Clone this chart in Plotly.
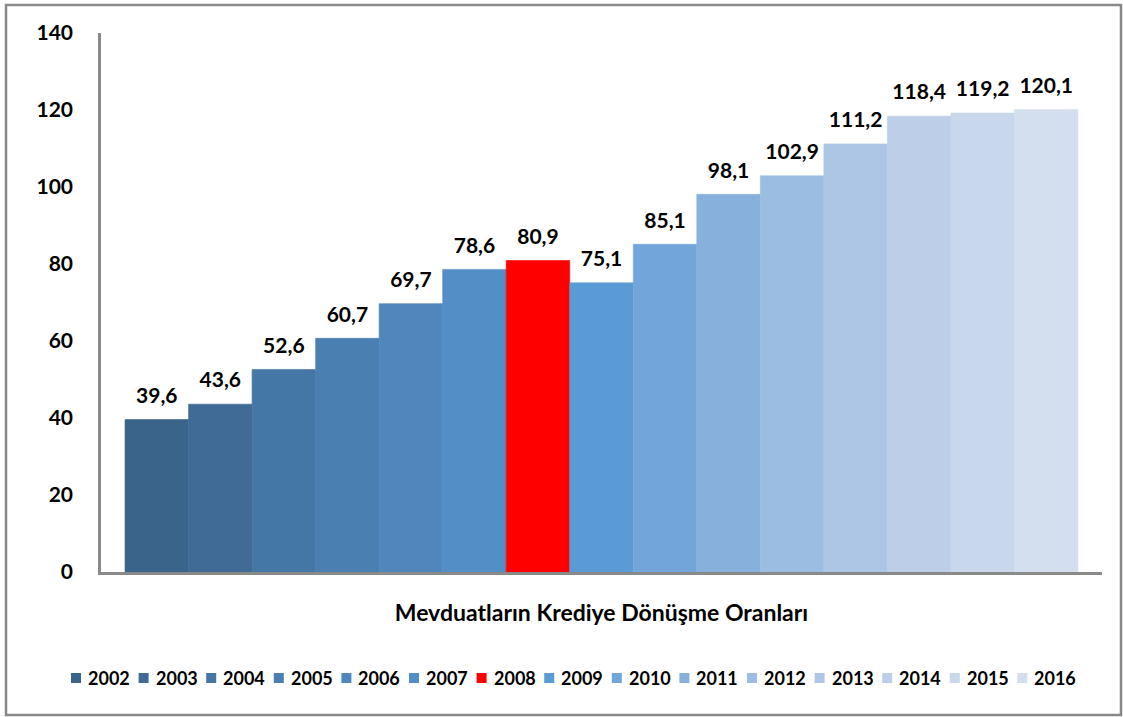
import plotly.graph_objects as go

category = "Mevduatların Krediye Dönüşme Oranları"
years = ["2002", "2003", "2004", "2005", "2006", "2007", "2008", "2009",
         "2010", "2011", "2012", "2013", "2014", "2015", "2016"]
ratios = [39.6, 43.6, 52.6, 60.7, 69.7, 78.6, 80.9, 75.1,
          85.1, 98.1, 102.9, 111.2, 118.4, 119.2, 120.1]
colors = ["#3A6489", "#3F6B96", "#4577A6", "#4A7FB1", "#4F86BB", "#538FC6",
          "#FF0000", "#5B9BD5", "#72A6DA", "#87B0DC", "#9BBDE2", "#AEC6E6",
          "#BCCEE8", "#C9D7EC", "#D3DEEF"]
y_ticks = [0, 20, 40, 60, 80, 100, 120, 140]

FONT = "Lato"
AXIS_GREY = "#898989"
W, H = 1123, 717
ML, MR, MT, MB = 101, 21, 33, 145
PW, PH = W - ML - MR, H - MT - MB


def px_x(x):
    return (x - ML) / PW


def px_y(y):
    return (H - MB - y) / PH


fig = go.Figure()
for yr, val, col in zip(years, ratios, colors):
    fig.add_trace(go.Bar(
        x=[category], y=[val], name=yr,
        # outline in the fill colour hides the hairline seams between bars
        marker=dict(color=col, line=dict(color=col, width=0.6)),
        # small blank second line lifts the label a bit off the bar top
        texttemplate="<span style='font-size:21px'>%{y:.1f}</span><br> ",
        textposition="outside",
        textfont=dict(family=FONT, size=9, color="#000000", weight="bold"),
        cliponaxis=False,
        showlegend=False,
    ))

# legend drawn by hand: Excel-style tight swatch + label pairs in one row
shapes = [dict(
    type="rect", xref="paper", yref="paper",
    x0=px_x(6), x1=px_x(1121), y0=px_y(715), y1=px_y(5),
    line=dict(color=AXIS_GREY, width=2.5), fillcolor="rgba(0,0,0,0)",
    layer="below",
)]
annotations = []
leg_x0, leg_step, leg_y, sw = 71, 67.6, 678, 10
for i, (yr, col) in enumerate(zip(years, colors)):
    x = leg_x0 + leg_step * i
    shapes.append(dict(
        type="rect", xref="paper", yref="paper",
        x0=px_x(x), x1=px_x(x + sw), y0=px_y(leg_y + sw / 2), y1=px_y(leg_y - sw / 2),
        fillcolor=col, line=dict(width=0),
    ))
    annotations.append(dict(
        xref="paper", yref="paper", x=px_x(x + sw + 5), y=px_y(leg_y),
        xanchor="left", yanchor="middle", text=yr, showarrow=False,
        font=dict(family=FONT, size=18, color="#000000", weight="bold"),
    ))

fig.update_layout(
    width=W, height=H,
    barmode="group", bargap=0.048, bargroupgap=0,
    separators=", ",
    paper_bgcolor="white", plot_bgcolor="white",
    margin=dict(l=ML, r=MR, t=MT, b=MB),
    font=dict(family=FONT, color="#000000", weight="bold"),
    showlegend=False,
    xaxis=dict(
        showline=True, linecolor=AXIS_GREY, linewidth=2.5,
        showgrid=False, ticks="", ticklabelstandoff=19,
        tickfont=dict(family=FONT, size=23, color="#000000", weight="bold"),
    ),
    yaxis=dict(
        range=[0, 140], tickvals=y_ticks, showline=True, linecolor=AXIS_GREY,
        linewidth=2.5, showgrid=False, zeroline=False, ticks="",
        ticklabelstandoff=21,
        tickfont=dict(family=FONT, size=21, color="#000000", weight="bold"),
    ),
    shapes=shapes,
    annotations=annotations,
)

# drop the browser's default body margin so the figure sits at the page origin
fig.write_html("out.html", config={"displayModeBar": False},
               post_script="document.body.style.margin='0';")
